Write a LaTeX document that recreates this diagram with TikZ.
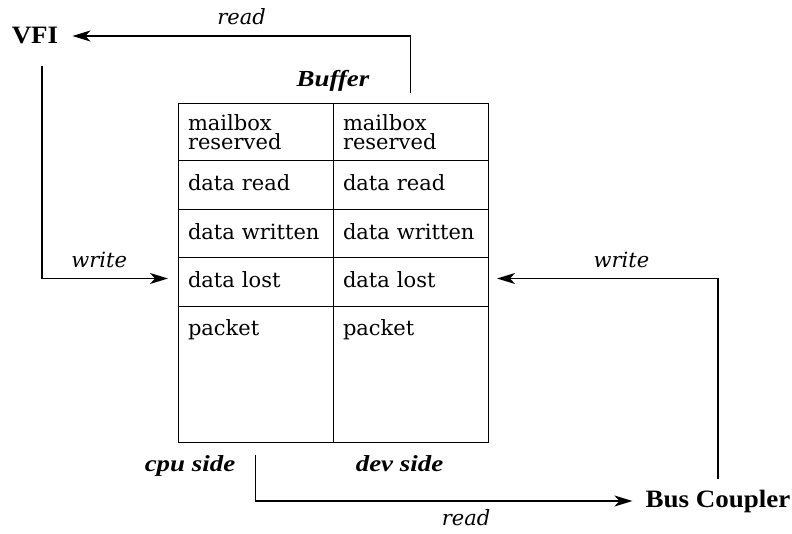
\documentclass[tikz,border=0pt]{standalone}
\usepackage{fontspec}
\setmainfont{DejaVu Serif}
\newfontfamily\boldlblfont[FakeStretch=1.08]{Liberation Serif}
\newfontfamily\sidelblfont[FakeStretch=1.17]{Liberation Serif}
\usetikzlibrary{arrows.meta, positioning}

\begin{document}
\begin{tikzpicture}[
  x=1pt, y=-1pt,
  cell/.style={rectangle, draw, line width=1pt, outer sep=0pt, inner sep=0pt, minimum width=155pt, text width=135pt, align=left, font=\fontsize{21}{19}\selectfont},
  onerow/.style={cell, minimum height=49pt, text height=16pt, text depth=5pt},
  mainlbl/.style={inner sep=0pt, font=\boldlblfont\bfseries\fontsize{25}{25}\selectfont},
  sidelbl/.style={inner sep=0pt, font=\sidelblfont\bfseries\itshape\fontsize{23}{23}\selectfont},
  edgelbl/.style={inner sep=0pt, font=\itshape\fontsize{21}{21}\selectfont},
  conn/.style={-{Stealth[length=18pt, width=11pt, inset=5pt]}, line width=1.5pt}
]
  \fill[white] (0,0) rectangle (792,534);

  % the two halves of the buffer
  \node[cell, minimum height=57pt, anchor=north west] (cpumbx) at (178,104) {mailbox\\reserved};
  \node[cell, minimum height=57pt, right=0pt of cpumbx] (devmbx) {mailbox\\reserved};
  \node[onerow, below=0pt of cpumbx] (cpuread) {data read};
  \node[onerow, below=0pt of devmbx] (devread) {data read};
  \node[onerow, minimum height=48pt, below=0pt of cpuread] (cpuwritten) {data written};
  \node[onerow, minimum height=48pt, below=0pt of devread] (devwritten) {data written};
  \node[onerow, below=0pt of cpuwritten] (cpulost) {data lost};
  \node[onerow, below=0pt of devwritten] (devlost) {data lost};
  \node[cell, minimum height=135pt, text height=28pt, text depth=107pt, below=0pt of cpulost] (cpupkt) {packet};
  \node[cell, minimum height=135pt, text height=28pt, text depth=107pt, below=0pt of devlost] (devpkt) {packet};

  \node[sidelbl, above=12pt of cpumbx.north east] (buflbl) {Buffer};
  \node[sidelbl, below=13pt of cpupkt.south west, xshift=12pt] (cpulbl) {cpu side};
  \node[sidelbl, below=13pt of devpkt, xshift=-11pt] (devlbl) {dev side};

  % the two parties
  \node[mainlbl] (vfi) at (35,36) {VFI};
  \node[mainlbl] (bus) at (718,501) {Bus Coupler};

  \draw[conn, shorten <=11pt, shorten >=14pt] (devmbx.north) |- node[edgelbl, pos=0.74, above=10pt] {read} (vfi);
  \draw[conn, shorten <=21pt, shorten >=10pt] ([xshift=7pt]vfi.south) |- node[edgelbl, pos=0.71, above=10pt] {write} ([yshift=4pt]cpulost.west);
  \draw[conn, shorten <=10pt, shorten >=9pt] (bus) |- node[edgelbl, pos=0.71, above=10pt] {write} ([yshift=4pt]devlost.east);
  \draw[conn, shorten <=13pt, shorten >=13pt] (cpupkt.south) |- node[edgelbl, pos=0.77, below=8pt] {read} (bus);

\end{tikzpicture}
\end{document}
